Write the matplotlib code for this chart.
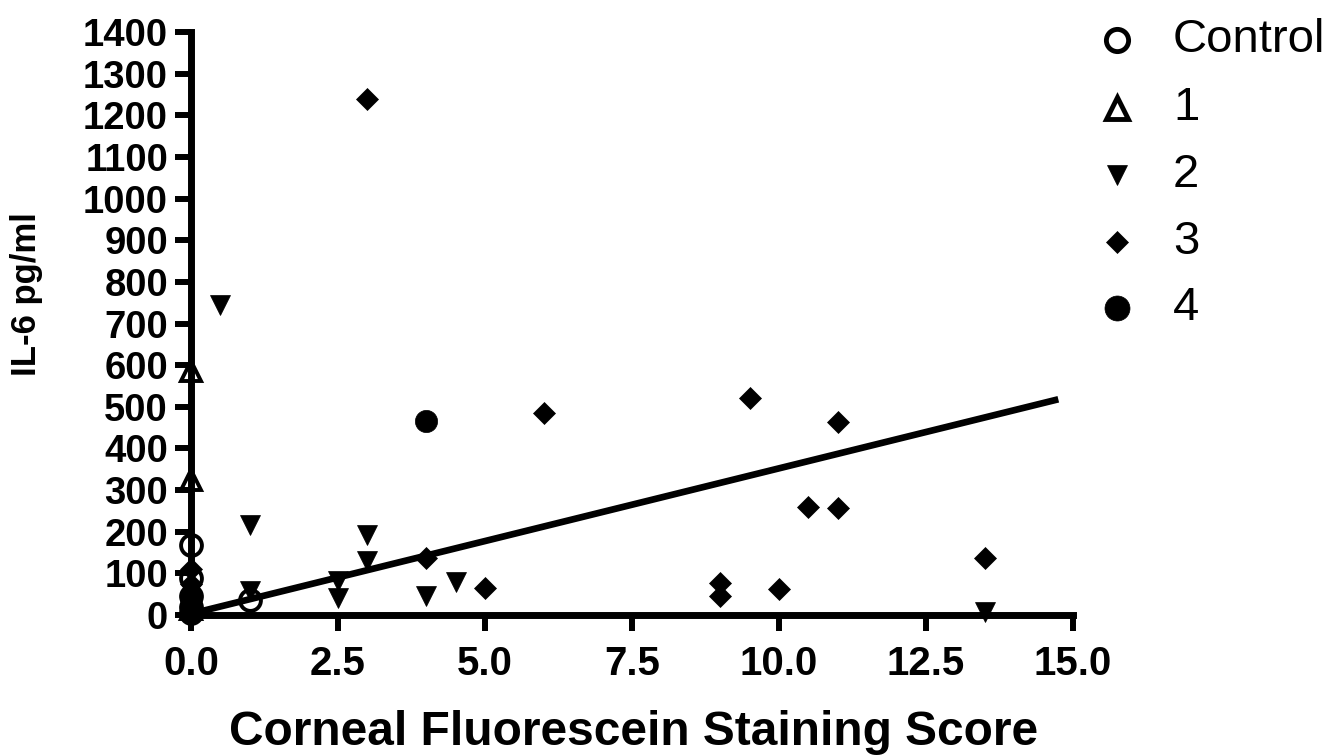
import matplotlib
matplotlib.use("Agg")
import matplotlib.pyplot as plt
from matplotlib.lines import Line2D

# --- data ---
control_x = [0, 0, 0, 0, 0, 1]
control_y = [168, 90, 45, 20, 5, 35]

g1_x = [0, 0, 0]
g1_y = [585, 325, 15]

g2_x = [0.5, 1, 1, 2.5, 2.5, 3, 3, 4, 4.5, 13.5, 0, 0, 0, 0]
g2_y = [745, 215, 58, 82, 40, 192, 130, 45, 80, 8, 35, 20, 10, 0]

g3_x = [3, 6, 9.5, 11, 10.5, 11, 13.5, 4, 5, 9, 9, 10, 0, 0, 0, 0, 0, 0]
g3_y = [1240, 485, 522, 463, 260, 258, 136, 138, 66, 78, 45, 62, 110, 75, 55, 30, 10, 0]

g4_x = [4, 0]
g4_y = [465, 40]

fit_x = [0, 14.75]
fit_y = [3, 518]

x_ticks = [0, 2.5, 5, 7.5, 10, 12.5, 15]
y_ticks = list(range(0, 1401, 100))

plt.rcParams['font.family'] = ['Liberation Sans', 'DejaVu Sans']

fig = plt.figure(figsize=(13.27, 7.56), dpi=100)
W, H = 1327, 756
ax = fig.add_axes([191 / W, 141 / H, 882 / W, 583 / H])

ax.plot(fit_x, fit_y, color='black', lw=4.8, solid_capstyle='butt', zorder=2)

styles = [
    ('Control', control_x, control_y, dict(marker='o', ms=15, mfc='none', mec='black', mew=2.8)),
    ('1', g1_x, g1_y, dict(marker='^', ms=15, mfc='none', mec='black', mew=2.8)),
    ('2', g2_x, g2_y, dict(marker='v', ms=14, mfc='black', mec='black', mew=0.5)),
    ('3', g3_x, g3_y, dict(marker='D', ms=11.5, mfc='black', mec='black', mew=0.5)),
    ('4', g4_x, g4_y, dict(marker='o', ms=16, mfc='black', mec='black', mew=0.5)),
]
for label, xs, ys, st in styles:
    ax.plot(xs, ys, ls='none', clip_on=False, zorder=3, **st)

ax.set_xlim(0, 15)
ax.set_ylim(0, 1400)
ax.set_xticks(x_ticks)
ax.set_xticklabels([f"{v:.1f}" for v in x_ticks])
ax.set_yticks(y_ticks)

for s in ['top', 'right']:
    ax.spines[s].set_visible(False)
for s in ['left', 'bottom']:
    ax.spines[s].set_linewidth(5)
    ax.spines[s].set_capstyle('projecting')

ax.tick_params(axis='both', width=4.3, length=11.5, color='black')
ax.tick_params(axis='x', pad=10, labelsize=29)
ax.tick_params(axis='y', pad=5, labelsize=27.5)
for t in ax.get_xticklabels() + ax.get_yticklabels():
    t.set_fontweight('bold')

ax.set_xlabel('Corneal Fluorescein Staining Score', fontsize=34.5, fontweight='bold')
ax.xaxis.set_label_coords(0.502, -0.163)
ax.set_ylabel('IL-6 pg/ml', fontsize=25, fontweight='bold')
ax.yaxis.set_label_coords(-0.168, 0.55)

# legend drawn by hand at the right
leg_y = [40, 108, 175, 242, 308]
leg_ms = [16, 16, 15, 13, 18]
leg_mew = [3.5, 3.5, 0.5, 0.5, 0.5]
for (label, xs, ys, st), py, ms, mew in zip(styles, leg_y, leg_ms, leg_mew):
    st2 = dict(st)
    st2['ms'] = ms
    st2['mew'] = mew
    if st['marker'] == 'D':
        st2['marker'] = 'D'
        st2['ms'] = 11
    fig.add_artist(Line2D([1117 / W], [1 - py / H], ls='none',
                          transform=fig.transFigure, **st2))
    fig.text(1173 / W, 1 - py / H, label, fontsize=34,
             ha='left', va='center')

fig.savefig('out.png', dpi=100)
